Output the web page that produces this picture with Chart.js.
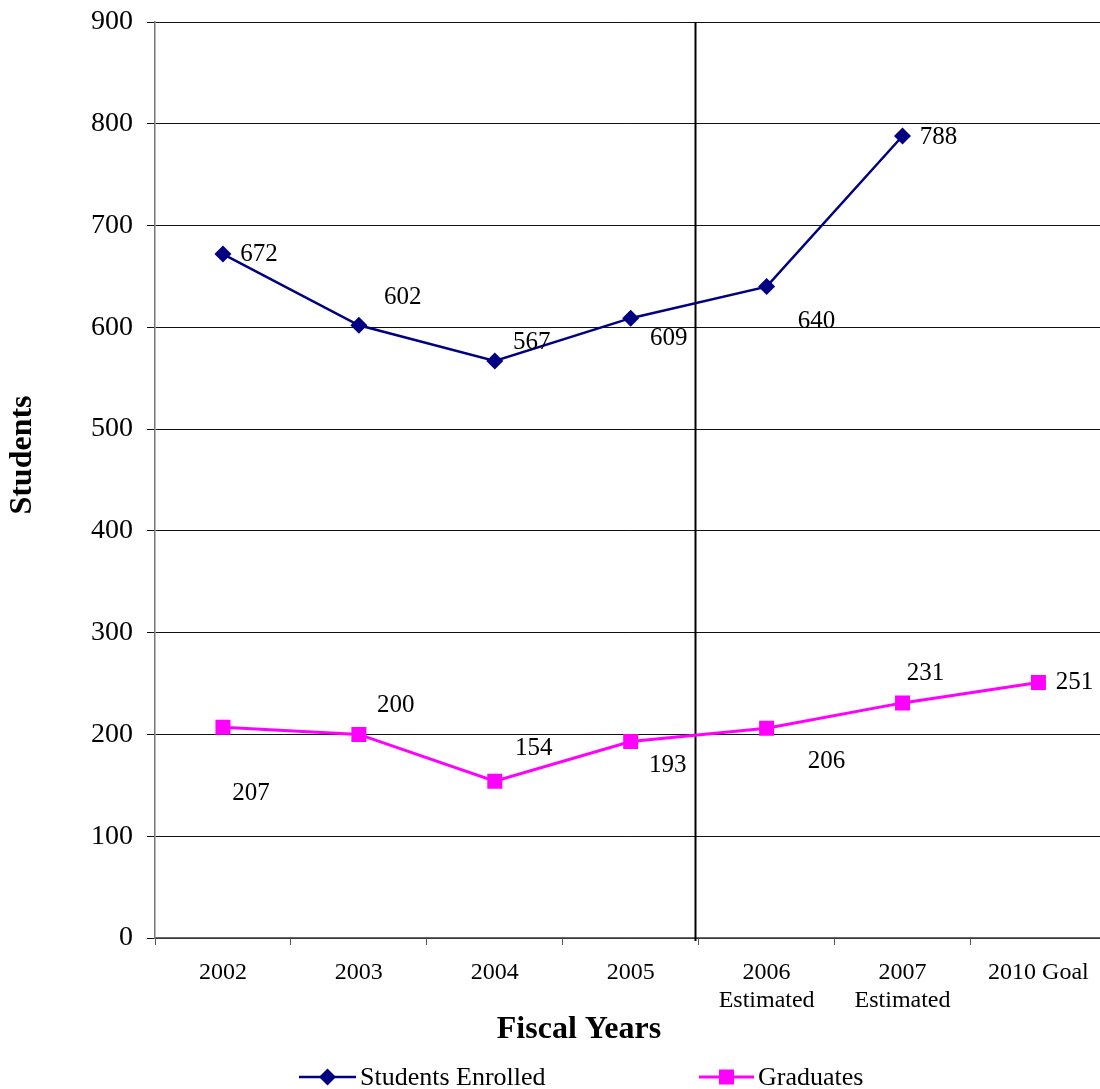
<!DOCTYPE html>
<html>
<head>
<meta charset="utf-8">
<script src="https://cdn.jsdelivr.net/npm/chart.js@4/dist/chart.umd.min.js"></script>
<style>
  html, body { margin: 0; padding: 0; background: #fff; overflow: hidden; }
  #wrap { width: 1117px; height: 1089px; }
</style>
</head>
<body>
<div id="wrap"><canvas id="c" width="1117" height="1089"></canvas></div>
<script>
// Fiscal-year categories (multi-line labels for the projected years)
const categories = [
  '2002', '2003', '2004', '2005',
  ['2006', 'Estimated'], ['2007', 'Estimated'], '2010 Goal'
];
const enrolled = [672, 602, 567, 609, 640, 788, null];
const graduates = [207, 200, 154, 193, 206, 231, 251];
const yTicks = [0, 100, 200, 300, 400, 500, 600, 700, 800, 900];

// Where each value label sits relative to its point, in pixels
const enrolledLabelOffsets = [[36, 0], [44, -28], [37, -18], [38, 20], [50, 35], [36, 1], null];
const graduateLabelOffsets = [[28, 66], [37, -29], [39, -33], [37, 24], [60, 33], [23, -29], [36, 0]];

const SERIF = '"Liberation Serif", "Times New Roman", serif';
const NAVY = '#000080';
const MAGENTA = '#FF00FF';

// Value labels next to every point
const valueLabels = {
  id: 'valueLabels',
  afterDatasetsDraw(chart) {
    const ctx = chart.ctx;
    ctx.save();
    ctx.font = '25px ' + SERIF;
    ctx.fillStyle = '#000';
    ctx.textAlign = 'center';
    ctx.textBaseline = 'middle';
    chart.data.datasets.forEach((ds, i) => {
      const meta = chart.getDatasetMeta(i);
      meta.data.forEach((pt, j) => {
        const v = ds.data[j];
        const off = ds.labelOffsets[j];
        if (v == null || !off) return;
        ctx.fillText(String(v), pt.x + off[0], pt.y + off[1]);
      });
    });
    ctx.restore();
  }
};

// Divider between actual and estimated years
const dividerLine = {
  id: 'dividerLine',
  beforeDatasetsDraw(chart) {
    const { ctx, chartArea, scales } = chart;
    const x = Math.round(scales.x.getPixelForValue(3.47)) + 0.5;
    ctx.save();
    ctx.strokeStyle = '#000';
    ctx.lineWidth = 2;
    ctx.beginPath();
    ctx.moveTo(x, chartArea.top);
    ctx.lineTo(x, chartArea.bottom + 3);
    ctx.stroke();
    ctx.restore();
  }
};

// Axis titles and the legend row underneath
const annotations = {
  id: 'annotations',
  afterDraw(chart) {
    const ctx = chart.ctx;
    ctx.save();
    ctx.fillStyle = '#000';
    ctx.font = 'bold 32px ' + SERIF;
    ctx.textAlign = 'center';
    ctx.textBaseline = 'middle';
    ctx.fillText('Fiscal Years', 579, 1030);
    ctx.save();
    ctx.translate(23, 455);
    ctx.rotate(-Math.PI / 2);
    ctx.fillText('Students', 0, 0);
    ctx.restore();

    const legendY = 1077;
    const drawItem = (x0, x1, color, lw, marker, text, tx) => {
      ctx.strokeStyle = color;
      ctx.lineWidth = lw;
      ctx.beginPath();
      ctx.moveTo(x0, legendY);
      ctx.lineTo(x1, legendY);
      ctx.stroke();
      const cx = (x0 + x1) / 2;
      ctx.fillStyle = color;
      ctx.beginPath();
      if (marker === 'diamond') {
        const r = 8.5;
        ctx.moveTo(cx, legendY - r);
        ctx.lineTo(cx + r, legendY);
        ctx.lineTo(cx, legendY + r);
        ctx.lineTo(cx - r, legendY);
        ctx.closePath();
      } else {
        ctx.rect(cx - 7.5, legendY - 7.5, 15, 15);
      }
      ctx.fill();
      ctx.fillStyle = '#000';
      ctx.font = '26px ' + SERIF;
      ctx.textAlign = 'left';
      ctx.textBaseline = 'middle';
      ctx.fillText(text, tx, legendY + 1);
    };
    drawItem(299, 356, NAVY, 2.5, 'diamond', 'Students Enrolled', 360);
    drawItem(699, 754, MAGENTA, 3, 'square', 'Graduates', 758);
    ctx.restore();
  }
};

new Chart(document.getElementById('c'), {
  type: 'line',
  data: {
    labels: categories,
    datasets: [
      {
        label: 'Students Enrolled',
        data: enrolled,
        labelOffsets: enrolledLabelOffsets,
        borderColor: NAVY,
        backgroundColor: NAVY,
        borderWidth: 2.5,
        pointStyle: 'rectRot',
        pointRadius: 8.5,
        pointBorderWidth: 0,
        tension: 0,
        spanGaps: false
      },
      {
        label: 'Graduates',
        data: graduates,
        labelOffsets: graduateLabelOffsets,
        borderColor: MAGENTA,
        backgroundColor: MAGENTA,
        borderWidth: 3,
        pointStyle: 'rect',
        pointRadius: 10.6,
        pointBorderWidth: 0,
        tension: 0
      }
    ]
  },
  options: {
    responsive: false,
    animation: false,
    devicePixelRatio: 1,
    layout: { padding: { top: 22, left: 0, right: 0, bottom: 0 } },
    plugins: {
      legend: { display: false },
      tooltip: { enabled: false }
    },
    scales: {
      x: {
        type: 'category',
        offset: true,
        afterFit(scale) {
          scale.height = 151;
          scale.paddingLeft = 0;
          scale.paddingRight = 0;
        },
        grid: {
          offset: true,
          drawOnChartArea: false,
          drawTicks: true,
          tickLength: 7,
          color: '#555',
          lineWidth: 1
        },
        border: { color: '#666', width: 1.5 },
        ticks: {
          color: '#000',
          font: { family: SERIF, size: 24 },
          padding: 13,
          maxRotation: 0,
          autoSkip: false
        }
      },
      y: {
        min: 0,
        max: 900,
        afterFit(scale) {
          scale.width = 155;
          scale.paddingTop = 0;
          scale.paddingBottom = 0;
        },
        afterBuildTicks(scale) { scale.ticks = yTicks.map(v => ({ value: v })); },
        grid: {
          color: '#111',
          lineWidth: 1,
          drawTicks: true,
          tickLength: 8
        },
        border: { color: '#777', width: 1.5 },
        ticks: {
          color: '#000',
          font: { family: SERIF, size: 28 },
          padding: 14
        }
      }
    }
  },
  plugins: [dividerLine, valueLabels, annotations]
});
</script>
</body>
</html>
